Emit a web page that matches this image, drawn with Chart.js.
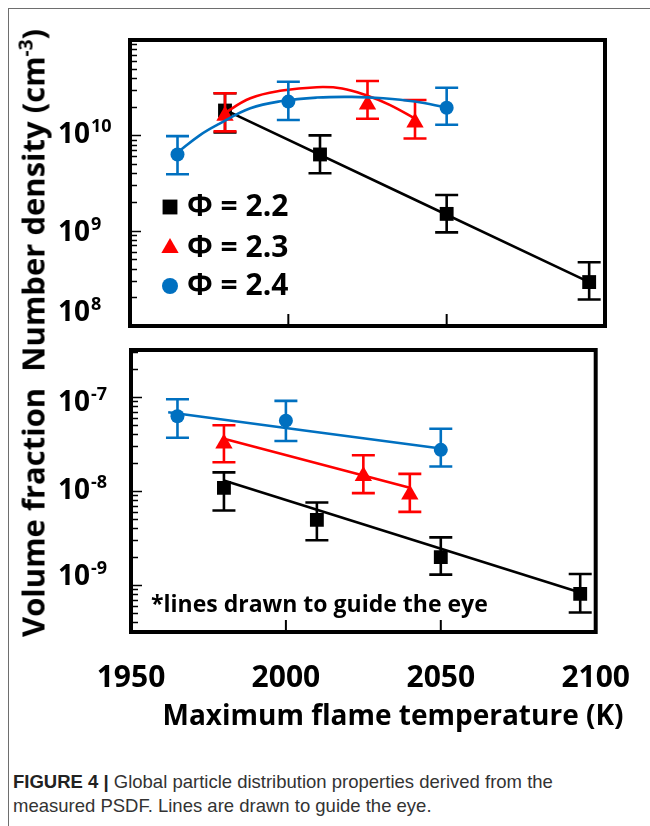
<!DOCTYPE html>
<html>
<head>
<meta charset="utf-8">
<script src="https://cdn.jsdelivr.net/npm/chart.js@4.4.1/dist/chart.umd.min.js"></script>
<style>
  html, body { margin: 0; padding: 0; background: #fff; }
  #page { position: relative; width: 650px; height: 826px; overflow: hidden; background: #fff; }
  #frame { position: absolute; left: 8px; top: 8px; width: 700px; height: 900px;
           border-left: 1px solid #6e6e6e; border-top: 1px solid #6e6e6e; }
  canvas { position: absolute; left: 0; }
  #cTop { top: 0; }
  #cBottom { top: 340px; }
  #ytitle { position: absolute; left: 33px; top: 333px; white-space: pre;
            transform: translate(-50%, -50%) rotate(-90deg);
            font: bold 31px "Open Sans", sans-serif; line-height: 1; color: #000; }
  #ytitle sup { font-size: 19px; vertical-align: 12px; line-height: 0; }
  #caption { position: absolute; left: 13px; top: 770px; width: 636px;
             font: 18.5px "Liberation Sans", Arial, sans-serif; line-height: 24px; color: #333; }
  #caption b { color: #222; }
</style>
</head>
<body>
<div id="page">
  <div id="frame"></div>
  <canvas id="cTop" width="650" height="340"></canvas>
  <canvas id="cBottom" width="650" height="410"></canvas>
  <div id="ytitle">Volume fraction  Number density (cm<sup>-3</sup>)</div>
  <div id="caption"><b>FIGURE 4 |</b> Global particle distribution properties derived from the<br>measured PSDF. Lines are drawn to guide the eye.</div>
</div>
<script>
// temperatures (K) for each equivalence ratio
const temps22 = [1980, 2010, 2050, 2095];
const temps23 = [1980, 2025, 2040];
const temps24 = [1965, 2000, 2050];
const xTicks = [1950, 2000, 2050, 2100];

// number density (cm^-3) with error bar limits
const nd22 = [1.82e10, 6.3e9, 1.5e9, 2.89e8];
const nd22Lo = [1.07e10, 4.0e9, 9.6e8, 1.9e8];
const nd22Hi = [2.76e10, 1.0e10, 2.37e9, 4.67e8];
const nd23 = [1.6e10, 2.1e10, 1.36e10];
const nd23Lo = [1.1e10, 1.49e10, 9.25e9];
const nd23Hi = [2.76e10, 3.72e10, 2.35e10];
const nd24 = [6.3e9, 2.26e10, 1.95e10];
const nd24Lo = [3.9e9, 1.45e10, 1.29e10];
const nd24Hi = [9.8e9, 3.65e10, 3.16e10];

// guide lines for number density
const ndGuide22T = [1980, 2095];
const ndGuide22 = [1.85e10, 2.89e8];
const ndGuide23T = [1979, 1988, 1998, 2009, 2017, 2025, 2032, 2040];
const ndGuide23 = [1.64e10, 2.45e10, 2.95e10, 3.2e10, 3.1e10, 2.6e10, 2.09e10, 1.5e10];
const ndGuide24T = [1965, 1972, 1978, 1988, 1998, 2009, 2020, 2030, 2040, 2050];
const ndGuide24 = [6.6e9, 1.0e10, 1.31e10, 1.92e10, 2.29e10, 2.49e10, 2.53e10, 2.45e10, 2.26e10, 1.95e10];

// volume fraction with error bar limits
const vf22 = [1.08e-8, 4.93e-9, 1.98e-9, 8.05e-10];
const vf22Lo = [6.2e-9, 2.99e-9, 1.29e-9, 5.1e-10];
const vf22Hi = [1.58e-8, 7.55e-9, 3.21e-9, 1.31e-9];
const vf23 = [3.2e-8, 1.44e-8, 9.2e-9];
const vf23Lo = [2.02e-8, 9.5e-9, 6.0e-9];
const vf23Hi = [5.0e-8, 2.4e-8, 1.52e-8];
const vf24 = [6.24e-8, 5.6e-8, 2.74e-8];
const vf24Lo = [3.69e-8, 3.4e-8, 1.82e-8];
const vf24Hi = [9.46e-8, 9.1e-8, 4.6e-8];

// straight guide lines for volume fraction
const vfGuide22T = [1980, 2095];
const vfGuide22 = [1.29e-8, 8.3e-10];
const vfGuide23T = [1980, 2040];
const vfGuide23 = [3.6e-8, 1.08e-8];
const vfGuide24T = [1962, 2050];
const vfGuide24 = [6.87e-8, 2.83e-8];

// decade exponents labelled on each y axis
const ndExps = [8, 9, 10];
const vfExps = [-9, -8, -7];

const labels = ['\u03A6 = 2.2', '\u03A6 = 2.3', '\u03A6 = 2.4'];
const BLACK = '#000000', RED = '#ff0000', BLUE = '#0070c0';
const FONT = '"Open Sans", sans-serif';

function pts(xs, ys) {
  return xs.map((x, i) => ({ x: x, y: ys[i] }));
}

function markers(label, xs, ys, lo, hi, color, style, radius, order) {
  return {
    label: label, data: pts(xs, ys), errLow: lo, errHigh: hi,
    showLine: false, pointStyle: style, pointRadius: radius, pointHoverRadius: radius,
    pointBackgroundColor: color, pointBorderColor: color, pointBorderWidth: 0,
    borderColor: color, backgroundColor: color, order: order
  };
}

function guide(xs, ys, color, order) {
  return {
    data: pts(xs, ys), borderColor: color, borderWidth: 2.6, pointRadius: 0,
    pointHoverRadius: 0, tension: 0.4, fill: false, order: order
  };
}

function drawMarker(ctx, style, r, x, y) {
  ctx.beginPath();
  if (style === 'rect') {
    const s = r * Math.SQRT1_2;
    ctx.rect(x - s, y - s, 2 * s, 2 * s);
  } else if (style === 'triangle') {
    ctx.moveTo(x, y - r);
    ctx.lineTo(x + r * Math.sin(Math.PI * 2 / 3), y + r / 2);
    ctx.lineTo(x - r * Math.sin(Math.PI * 2 / 3), y + r / 2);
    ctx.closePath();
  } else {
    ctx.arc(x, y, r, 0, Math.PI * 2);
  }
  ctx.fill();
}

// error bars, frame, inward ticks, decade labels, legend and notes
const panelPlugin = {
  id: 'panel',
  beforeDatasetDraw(chart, args) {
    const ds = chart.data.datasets[args.index];
    if (!ds.errLow) return;
    const ctx = chart.ctx, y = chart.scales.y;
    ctx.save();
    ctx.strokeStyle = ds.borderColor;
    ctx.lineWidth = 2.6;
    args.meta.data.forEach((p, i) => {
      const t = y.getPixelForValue(ds.errHigh[i]);
      const b = y.getPixelForValue(ds.errLow[i]);
      ctx.beginPath();
      ctx.moveTo(p.x, t); ctx.lineTo(p.x, b);
      ctx.moveTo(p.x - 11.5, t); ctx.lineTo(p.x + 11.5, t);
      ctx.moveTo(p.x - 11.5, b); ctx.lineTo(p.x + 11.5, b);
      ctx.stroke();
    });
    ctx.restore();
  },
  afterDatasetsDraw(chart, args, opts) {
    const ctx = chart.ctx, a = chart.chartArea;
    const xs = chart.scales.x, ys = chart.scales.y;
    ctx.save();
    ctx.strokeStyle = '#000';
    ctx.fillStyle = '#000';

    // minor and major ticks on the left edge, pointing in
    ctx.lineWidth = 1.5;
    const lo = Math.floor(Math.log10(ys.min)), hi = Math.ceil(Math.log10(ys.max));
    for (let d = lo; d <= hi; d++) {
      for (let m = 1; m <= 9; m++) {
        const v = m * Math.pow(10, d);
        if (v < ys.min || v > ys.max) continue;
        const py = Math.round(ys.getPixelForValue(v)) + 0.5;
        const len = m === 1 ? 9 : 5;
        ctx.beginPath();
        ctx.moveTo(a.left, py);
        ctx.lineTo(a.left + 2 + len, py);
        ctx.stroke();
      }
    }
    // temperature ticks on the bottom edge
    ctx.lineWidth = 2;
    xTicks.slice(1, -1).forEach(t => {
      const px = xs.getPixelForValue(t);
      ctx.beginPath();
      ctx.moveTo(px, a.bottom);
      ctx.lineTo(px, a.bottom - 12);
      ctx.stroke();
    });

    // box
    ctx.lineWidth = 4;
    ctx.strokeRect(a.left, a.top, a.right - a.left, a.bottom - a.top);

    // decade labels 10^n
    ctx.textAlign = 'left';
    ctx.textBaseline = 'middle';
    opts.exps.forEach((e, i) => {
      const py = ys.getPixelForValue(Math.pow(10, e)) + opts.nudge[i];
      ctx.font = 'bold 28px ' + FONT;
      ctx.fillText('10', opts.labelX, py);
      const w = ctx.measureText('10').width;
      ctx.font = 'bold 18px ' + FONT;
      ctx.fillText(String(e), opts.labelX + w + 1, py - 8);
    });

    // legend
    if (opts.legend) {
      const items = chart.data.datasets.filter(d => d.errLow)
        .sort((p, q) => labels.indexOf(p.label) - labels.indexOf(q.label));
      items.forEach((d, i) => {
        const ly = opts.legend.y[i];
        ctx.fillStyle = d.pointBackgroundColor;
        drawMarker(ctx, d.pointStyle, opts.legend.r[i], opts.legend.x, ly);
        ctx.fillStyle = '#000';
        ctx.font = 'bold 30px ' + FONT;
        ctx.fillText(d.label, opts.legend.textX, ly);
      });
    }

    if (opts.note) {
      ctx.font = 'bold 23px ' + FONT;
      ctx.fillText(opts.note.text, opts.note.x, opts.note.y);
    }

    // axis title, placed under the labels
    if (opts.xTitle) {
      ctx.textAlign = 'center';
      ctx.font = 'bold 28px ' + FONT;
      ctx.fillText(opts.xTitle.text, opts.xTitle.x, opts.xTitle.y);
    }
    ctx.restore();
  }
};

Chart.register(panelPlugin);

const common = {
  responsive: false,
  animation: false,
  events: [],
  plugins: { legend: { display: false }, tooltip: { enabled: false } }
};

// top panel: number density
new Chart(document.getElementById('cTop'), {
  type: 'line',
  data: {
    datasets: [
      markers(labels[2], temps24, nd24, nd24Lo, nd24Hi, BLUE, 'circle', 7, 0),
      guide(ndGuide24T, ndGuide24, BLUE, 1),
      markers(labels[1], temps23, nd23, nd23Lo, nd23Hi, RED, 'triangle', 10, 2),
      guide(ndGuide23T, ndGuide23, RED, 3),
      markers(labels[0], temps22, nd22, nd22Lo, nd22Hi, BLACK, 'rect', 9.8, 4),
      guide(ndGuide22T, ndGuide22, BLACK, 5)
    ]
  },
  options: Object.assign({}, common, {
    layout: { padding: { left: 130, right: 45, top: 40, bottom: 14 } },
    scales: {
      x: { type: 'linear', min: 1950, max: 2100, display: false },
      y: { type: 'logarithmic', min: 1e8, max: 1e11, display: false }
    },
    plugins: Object.assign({}, common.plugins, {
      panel: {
        exps: ndExps, nudge: [-13, 2, 0], labelX: 58,
        legend: { x: 170, textX: 187, y: [207, 248, 286], r: [10.5, 10, 8] }
      }
    })
  })
});

// bottom panel: volume fraction
new Chart(document.getElementById('cBottom'), {
  type: 'line',
  data: {
    datasets: [
      markers(labels[2], temps24, vf24, vf24Lo, vf24Hi, BLUE, 'circle', 7, 0),
      guide(vfGuide24T, vfGuide24, BLUE, 1),
      markers(labels[1], temps23, vf23, vf23Lo, vf23Hi, RED, 'triangle', 10, 2),
      guide(vfGuide23T, vfGuide23, RED, 3),
      markers(labels[0], temps22, vf22, vf22Lo, vf22Hi, BLACK, 'rect', 9.8, 4),
      guide(vfGuide22T, vfGuide22, BLACK, 5)
    ]
  },
  options: Object.assign({}, common, {
    layout: { padding: { left: 131, right: 44, top: 6, bottom: 15 } },
    scales: {
      x: {
        type: 'linear', min: xTicks[0], max: xTicks[xTicks.length - 1],
        afterBuildTicks: s => { s.ticks = xTicks.map(v => ({ value: v })); },
        afterFit: s => { s.height = 103; },
        grid: { display: false },
        border: { display: false },
        ticks: { color: '#000', padding: 20, font: { family: FONT, size: 30, weight: 'bold' },
                 maxRotation: 0, callback: v => String(v) }
      },
      y: { type: 'logarithmic', min: Math.pow(10, -9.5), max: Math.pow(10, -6.5), display: false }
    },
    plugins: Object.assign({}, common.plugins, {
      panel: {
        exps: vfExps, nudge: [-8, 0, 6], labelX: 58,
        note: { text: '*lines drawn to guide the eye', x: 151, y: 265 },
        xTitle: { text: 'Maximum flame temperature (K)', x: 393, y: 377 }
      }
    })
  })
});
</script>
</body>
</html>
